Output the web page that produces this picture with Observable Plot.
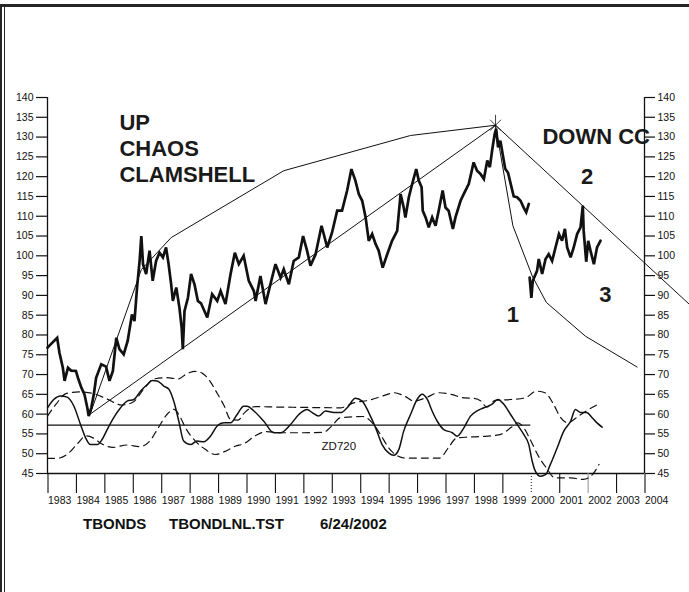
<!DOCTYPE html>
<html>
<head>
<meta charset="utf-8">
<script src="https://cdn.jsdelivr.net/npm/d3@7"></script>
<script src="https://cdn.jsdelivr.net/npm/@observablehq/plot@0.6"></script>
<style>
html, body { margin: 0; padding: 0; background: #fff; }
#wrap { position: relative; width: 689px; height: 592px; overflow: hidden; background: #fff;
  font-family: "Liberation Sans", Arial, Helvetica, sans-serif; }
#chart { position: absolute; left: 0; top: 0; }
.border { position: absolute; background: #262626; }
.cap { position: absolute; top: 516px; font-weight: bold; font-size: 15px; line-height: 15px; color: #111; white-space: nowrap; }
</style>
</head>
<body>
<div id="wrap">
  <div id="chart"></div>
  <div class="border" style="left:0;top:4px;width:689px;height:3px;"></div>
  <div class="border" style="left:0;top:4px;width:2px;height:588px;"></div>
  <div class="border" style="left:4px;top:4px;width:1px;height:588px;"></div>
</div>
<script>
// ---- T-bond price, first contract segment (year, price)
const priceT1 = [1983.00,1983.12,1983.34,1983.42,1983.54,1983.60,1983.72,1983.83,1984.00,1984.07,1984.19,1984.30,1984.40,1984.45,1984.54,1984.63,1984.71,1984.89,1985.06,1985.18,1985.30,1985.42,1985.53,1985.68,1985.82,1985.97,1986.06,1986.15,1986.24,1986.30,1986.36,1986.47,1986.59,1986.70,1986.82,1986.94,1987.06,1987.17,1987.26,1987.35,1987.41,1987.53,1987.64,1987.72,1987.76,1987.82,1987.94,1988.05,1988.17,1988.29,1988.40,1988.62,1988.79,1988.97,1989.09,1989.26,1989.44,1989.59,1989.73,1989.90,1990.08,1990.26,1990.32,1990.49,1990.67,1990.84,1991.02,1991.20,1991.31,1991.49,1991.66,1991.84,1991.99,1992.13,1992.25,1992.43,1992.64,1992.84,1993.01,1993.19,1993.36,1993.54,1993.69,1993.83,1993.95,1994.07,1994.19,1994.30,1994.42,1994.54,1994.65,1994.79,1994.95,1995.12,1995.30,1995.42,1995.53,1995.59,1995.71,1995.83,1995.97,1996.06,1996.16,1996.20,1996.30,1996.41,1996.53,1996.65,1996.76,1996.90,1997.00,1997.11,1997.26,1997.35,1997.53,1997.64,1997.82,1997.99,1998.11,1998.23,1998.35,1998.47,1998.56,1998.64,1998.73,1998.78,1998.85,1998.93,1999.01,1999.10,1999.20,1999.30,1999.40,1999.52,1999.64,1999.75,1999.84,1999.93];
const priceV1 = [76.8,77.7,79.3,75.5,71.7,68.4,71.7,71.0,70.9,69.2,66.7,65.0,61.6,59.5,61.6,65.0,69.2,72.6,72.0,68.4,70.9,79.3,76.4,75.1,78.5,85.2,83.5,92.0,98.7,105.0,97.9,95.4,101.3,93.7,98.7,100.8,99.6,102.1,97.9,92.8,88.6,92.0,86.9,81.8,76.4,86.1,89.4,95.4,92.8,88.6,88.0,84.4,90.3,88.6,91.1,87.8,95.4,100.8,97.9,100.0,93.7,91.1,88.6,94.9,87.8,92.8,97.9,94.5,96.6,92.8,98.7,99.6,105.0,101.3,97.5,100.4,107.6,102.1,105.9,111.4,111.4,116.5,121.9,119.0,115.6,113.9,109.7,103.8,105.5,103.0,101.3,97.0,100.4,103.8,106.3,115.6,112.2,109.7,114.8,118.2,121.9,119.0,117.3,111.4,109.7,107.2,109.7,107.6,111.4,116.5,112.2,111.4,106.8,109.7,113.9,115.6,118.2,123.6,121.5,120.7,119.4,124.1,122.4,126.6,130.8,132.1,127.4,129.1,125.7,122.0,121.0,118.0,115.0,114.8,113.9,112.2,111.0,113.1];
// ---- second contract segment
const priceT2 = [1999.96,2000.02,2000.07,2000.22,2000.28,2000.40,2000.52,2000.63,2000.75,2000.87,2000.99,2001.10,2001.20,2001.28,2001.40,2001.51,2001.63,2001.75,2001.83,2001.86,2001.95,2002.02,2002.10,2002.22,2002.33,2002.45];
const priceV2 = [94.5,89.4,93.7,96.2,99.2,95.4,99.2,100.4,98.7,102.1,105.5,103.8,106.8,102.1,99.6,102.1,105.5,107.2,112.7,106.3,98.5,103.8,101.3,97.9,102.1,103.8];

// ---- clamshell lines
const upCurveT = [1984.5, 1986.3, 1987.35, 1991.31, 1995.77, 1998.76];
const upCurveV = [60, 96.5, 104.6, 121.5, 130.4, 133];
const upLineT = [1984.5, 1998.76];
const upLineV = [60, 133];
const downLineT = [1998.76, 2005.6];
const downLineV = [133, 87.6];
const downCurveT = [1998.76, 1999.37, 2000.05, 2000.55, 2001.92, 2003.74];
const downCurveV = [133, 107.6, 94.9, 88.2, 79.7, 71.9];
const peak = [[1998.76, 133]];

// ---- oscillator ZD720 and its bands
const oscT = [1983.00,1983.22,1983.46,1983.69,1983.93,1984.16,1984.34,1984.51,1984.75,1984.92,1985.10,1985.33,1985.57,1985.80,1986.04,1986.27,1986.51,1986.68,1986.86,1987.09,1987.27,1987.44,1987.62,1987.79,1988.03,1988.26,1988.50,1988.73,1988.97,1989.20,1989.44,1989.67,1989.90,1990.02,1990.26,1990.61,1990.96,1991.20,1991.55,1991.84,1992.13,1992.31,1992.54,1992.78,1993.07,1993.31,1993.54,1993.83,1994.07,1994.30,1994.54,1994.77,1995.00,1995.18,1995.36,1995.53,1995.77,1996.00,1996.18,1996.36,1996.53,1996.71,1996.94,1997.24,1997.41,1997.65,1997.88,1998.11,1998.35,1998.64,1998.84,1999.05,1999.29,1999.52,1999.75,1999.93,2000.05,2000.16,2000.34,2000.52,2000.69,2000.93,2001.16,2001.40,2001.57,2001.75,2001.96,2002.16,2002.33,2002.51];
const oscV = [61.6,63.7,64.6,64.3,62.0,57.4,54.0,52.3,52.3,53.6,56.1,59.1,61.6,63.3,63.7,65.8,67.5,68.5,68.4,67.1,66.3,63.3,58.2,53.2,52.3,53.2,53.0,54.4,57.0,57.8,57.8,59.9,62.0,62.0,60.8,58.2,55.3,55.3,57.4,59.9,61.2,60.4,59.5,60.8,60.4,60.4,61.6,64.0,63.3,60.4,56.6,52.3,50.2,49.6,51.1,55.7,59.9,63.7,65.0,63.7,60.8,58.2,56.1,55.3,54.4,56.6,59.5,60.8,61.6,62.5,63.7,62.5,59.9,57.4,54.9,52.3,48.1,45.6,44.3,44.7,47.3,51.5,55.7,58.2,61.2,60.4,60.4,59.1,57.8,56.7];
const upperT = [1983.00,1983.30,1983.65,1984.10,1984.60,1985.10,1985.60,1986.00,1986.40,1986.75,1987.20,1987.60,1987.90,1988.20,1988.45,1988.70,1988.95,1989.20,1989.45,1989.70,1989.95,1990.30,1991.00,1992.00,1993.30,1993.80,1994.30,1994.80,1995.20,1995.55,1995.90,1996.30,1996.75,1997.20,1997.65,1998.00,1998.25,1998.45,1998.75,1999.30,1999.80,2000.20,2000.50,2000.80,2001.05,2001.30,2001.60,2001.95,2002.40];
const upperV = [59.5,62.5,65.2,65.6,65.2,63.8,62.3,63.0,66.5,68.9,69.2,68.9,70.2,70.8,70.3,68.5,65.5,62.3,58.6,58.5,60.5,61.9,61.8,61.7,61.6,62.9,63.5,64.6,65.4,64.6,63.3,64.1,65.4,65.0,64.1,64.0,63.3,61.8,63.5,63.7,64.1,65.8,65.4,62.5,59.1,57.8,59.1,60.8,62.6];
const lowerT = [1983.00,1983.40,1983.75,1984.05,1984.35,1984.60,1984.90,1985.30,1985.80,1986.25,1986.60,1986.90,1987.20,1987.45,1987.65,1987.85,1988.20,1988.55,1988.90,1989.25,1989.60,1989.90,1990.30,1990.70,1991.20,1992.00,1992.70,1993.00,1993.30,1994.10,1994.40,1994.70,1995.00,1995.30,1995.60,1996.80,1997.10,1997.40,1997.80,1998.40,1998.95,1999.30,1999.55,1999.75,1999.95,2000.30,2000.55,2000.85,2001.40,2001.85,2002.20,2002.40];
const lowerV = [48.8,48.9,50.2,52.5,54.5,54.0,52.5,51.6,52.2,51.8,53.2,56.6,59.9,61.2,59.5,56.6,53.2,51.1,49.8,50.6,51.9,52.5,54.5,55.6,55.3,55.3,55.4,57.0,59.1,59.4,58.0,55.0,51.5,49.5,48.9,48.9,51.5,54.0,54.2,54.4,54.9,56.6,57.8,56.6,54.0,49.0,46.4,43.9,43.9,43.5,45.0,47.3];
const zeroLevel = 57.2;
const zeroSpan = [1983, 2000];

// ---- axes
const years = d3.range(1983, 2005);
const yTicks = d3.range(45, 141, 5);

// ---- annotations
const bigLabels = ["UP\nCHAOS\nCLAMSHELL", "DOWN CC"];
const bigLabelT = [1985.53, 2000.41];
const bigLabelV = [136.46, 132.93];
const waveLabels = ["1", "2", "3"];
const waveT = [1999.37, 2001.98, 2002.62];
const waveV = [87.2, 121.99, 92.25];
const oscName = ["ZD720"];
const oscNameT = [1992.64];
const oscNameV = [52.91];
const captionParts = ["TBONDS", "TBONDLNL.TST", "6/24/2002"];
const captionLeft = [83, 169, 320];

const ink = "#111";
const font = "Liberation Sans, Arial, Helvetica, sans-serif";
const tf = d => String(d);

const chart = Plot.plot({
  width: 689,
  height: 510,
  marginLeft: 47,
  marginRight: 45,
  marginTop: 97,
  marginBottom: 37,
  x: {domain: [1983, 2004], axis: null},
  y: {domain: [45, 140], axis: null},
  style: {fontFamily: font, color: ink, background: "white", overflow: "visible"},
  marks: [
    // axis frame lines
    Plot.ruleX([1983, 2004], {y1: 45, y2: 140, stroke: ink, strokeWidth: 1.3}),
    Plot.ruleY([45], {x1: 1983, x2: 2004, stroke: ink, strokeWidth: 1.3}),
    Plot.axisY({anchor: "left", ticks: yTicks, tickSize: 11, tickPadding: 3, fontSize: 10.5, label: null, tickFormat: tf, strokeWidth: 1.2}),
    Plot.axisY({anchor: "right", ticks: yTicks, tickSize: 10, tickPadding: 3, fontSize: 10.5, label: null, tickFormat: tf, strokeWidth: 1.2}),
    Plot.axisX({ticks: years.filter(y => y !== 2000 && y !== 2002), tickSize: 20, tickPadding: 3, fontSize: 10.5, textAnchor: "start", dx: 0.5, label: null, tickFormat: tf, strokeWidth: 1.1}),
    Plot.axisX({ticks: [2000], tickSize: 20, tickPadding: 3, fontSize: 10.5, textAnchor: "start", dx: 0.5, label: null, tickFormat: tf, strokeWidth: 1, strokeDasharray: "1,2"}),
    Plot.axisX({ticks: [2002], tickSize: 20, tickPadding: 3, fontSize: 10.5, textAnchor: "start", dx: 0.5, label: null, tickFormat: tf, stroke: "#999", strokeWidth: 1.1}),

    // oscillator section
    Plot.ruleY([zeroLevel], {x1: zeroSpan[0], x2: zeroSpan[1], stroke: ink, strokeWidth: 1.3}),
    Plot.line(d3.zip(upperT, upperV), {stroke: ink, strokeWidth: 1.2, strokeDasharray: "7,5", curve: "monotone-x"}),
    Plot.line(d3.zip(lowerT, lowerV), {stroke: ink, strokeWidth: 1.2, strokeDasharray: "7,5", curve: "monotone-x"}),
    Plot.line(d3.zip(oscT, oscV), {stroke: ink, strokeWidth: 1.5, curve: "monotone-x"}),
    Plot.text(oscName, {x: oscNameT, y: oscNameV, text: d => d, textAnchor: "start", lineAnchor: "top", fontSize: 11.5, fill: ink}),

    // price
    Plot.line(d3.zip(priceT1, priceV1), {stroke: ink, strokeWidth: 2.7, strokeLinejoin: "miter", strokeMiterlimit: 3}),
    Plot.line(d3.zip(priceT2, priceV2), {stroke: ink, strokeWidth: 2.7, strokeLinejoin: "miter", strokeMiterlimit: 3}),

    // clamshell lines
    Plot.line(d3.zip(upCurveT, upCurveV), {stroke: ink, strokeWidth: 1}),
    Plot.line(d3.zip(upLineT, upLineV), {stroke: ink, strokeWidth: 1}),
    Plot.line(d3.zip(downLineT, downLineV), {stroke: ink, strokeWidth: 1}),
    Plot.line(d3.zip(downCurveT, downCurveV), {stroke: ink, strokeWidth: 1}),
    Plot.dot(peak, {symbol: "times", r: 5, stroke: ink, strokeWidth: 0.8}),
    Plot.ruleX(peak, {x: d => d[0], y1: d => d[1] - 1.5, y2: d => d[1] + 2.5, stroke: ink, strokeWidth: 0.8}),

    // annotations
    Plot.text(bigLabels, {x: (d, i) => bigLabelT[i], y: (d, i) => bigLabelV[i], text: d => d, textAnchor: "start", lineAnchor: "top", fontSize: 22, fontWeight: "bold", lineHeight: 1.18, fill: "#1a1a1a"}),
    Plot.text(waveLabels, {x: (d, i) => waveT[i], y: (d, i) => waveV[i], text: d => d, textAnchor: "middle", lineAnchor: "top", fontSize: 22, fontWeight: "bold", fill: "#1a1a1a"})
  ]
});
document.getElementById("chart").appendChild(chart);

const wrap = document.getElementById("wrap");
captionParts.forEach((t, i) => {
  const d = document.createElement("div");
  d.className = "cap";
  d.style.left = captionLeft[i] + "px";
  d.textContent = t;
  wrap.appendChild(d);
});
</script>
</body>
</html>
